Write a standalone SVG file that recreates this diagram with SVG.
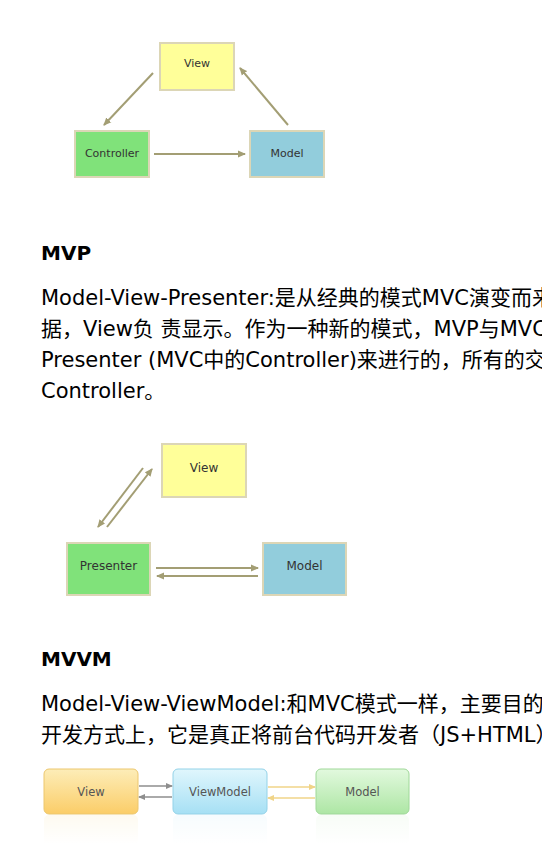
<svg xmlns="http://www.w3.org/2000/svg" width="542" height="844" viewBox="0 0 542 844">
<style>
.box{stroke:#dcd6b6;stroke-width:2}
.lbl{font-family:"DejaVu Sans",Verdana,sans-serif;font-size:11px;fill:#333;text-anchor:middle}
.lbl2{font-family:"DejaVu Sans",Verdana,sans-serif;font-size:12px;fill:#333;text-anchor:middle}
.lbl3{font-family:"DejaVu Sans",Verdana,sans-serif;font-size:11.5px;fill:#555;text-anchor:middle}
.h{font-family:"DejaVu Sans",Verdana,sans-serif;font-size:20px;font-weight:bold;fill:#000}
.t{font-family:"DejaVu Sans",Verdana,"Noto Sans CJK SC",sans-serif;font-size:21px;fill:#000}
.arr{stroke:#a39e74;stroke-width:2;fill:none;marker-end:url(#ah)}
.ag{stroke:#8e8e8e;stroke-width:1.5;fill:none;marker-end:url(#ahg)}
.ay{stroke:#f0d488;stroke-width:1.5;fill:none;marker-end:url(#ahy)}
</style>
<defs>
<marker id="ah" markerWidth="8" markerHeight="8" refX="7" refY="4" orient="auto" markerUnits="userSpaceOnUse"><path d="M0,0.5 L8,4 L0,7.5 Z" fill="#a39e74"/></marker>
<marker id="ahg" markerWidth="7" markerHeight="6" refX="6" refY="3" orient="auto" markerUnits="userSpaceOnUse"><path d="M0,0 L7,3 L0,6 Z" fill="#8e8e8e"/></marker>
<marker id="ahy" markerWidth="7" markerHeight="6" refX="6" refY="3" orient="auto" markerUnits="userSpaceOnUse"><path d="M0,0 L7,3 L0,6 Z" fill="#f0d488"/></marker>
<linearGradient id="gV" x1="0" y1="0" x2="0" y2="1"><stop offset="0" stop-color="#fdedb8"/><stop offset="1" stop-color="#fbcd68"/></linearGradient>
<linearGradient id="gVM" x1="0" y1="0" x2="0" y2="1"><stop offset="0" stop-color="#e0f6fd"/><stop offset="1" stop-color="#a6e0f4"/></linearGradient>
<linearGradient id="gM" x1="0" y1="0" x2="0" y2="1"><stop offset="0" stop-color="#e2f9de"/><stop offset="1" stop-color="#ade6a4"/></linearGradient>
<linearGradient id="fade" x1="0" y1="0" x2="0" y2="1"><stop offset="0" stop-color="#fff" stop-opacity="0.4"/><stop offset="1" stop-color="#fff" stop-opacity="1"/></linearGradient>
</defs>
<rect width="542" height="844" fill="#fff"/>

<!-- Diagram 1: MVC -->
<g id="mvc-view"><rect class="box" x="160" y="43" width="74" height="47" fill="#ffff99"/><text class="lbl" x="197" y="67">View</text></g>
<g id="mvc-controller"><rect class="box" x="75" y="131" width="74" height="46" fill="#80e27a"/><text class="lbl" x="112" y="157">Controller</text></g>
<g id="mvc-model"><rect class="box" x="250" y="131" width="74" height="46" fill="#92cddc"/><text class="lbl" x="287" y="157">Model</text></g>
<g id="mvc-connectors">
<line class="arr" x1="153" y1="73" x2="104" y2="125"/>
<line class="arr" x1="154" y1="154" x2="245" y2="154"/>
<line class="arr" x1="288" y1="125" x2="240" y2="68"/>
</g>

<!-- MVP section text -->
<text class="h" x="41" y="260">MVP</text>
<text class="t" x="41" y="305">Model-View-Presenter:是从经典的模式MVC演变而来</text>
<text class="t" x="41" y="336">据，View负 责显示。作为一种新的模式，MVP与MVC</text>
<text class="t" x="41" y="367">Presenter (MVC中的Controller)来进行的，所有的交</text>
<text class="t" x="41" y="398">Controller。</text>

<!-- Diagram 2: MVP -->
<g id="mvp-view"><rect class="box" x="162" y="444" width="84" height="53" fill="#ffff99"/><text class="lbl2" x="204" y="472">View</text></g>
<g id="mvp-presenter"><rect class="box" x="67" y="543" width="83" height="52" fill="#80e27a"/><text class="lbl2" x="108.5" y="570">Presenter</text></g>
<g id="mvp-model"><rect class="box" x="263" y="543" width="83" height="52" fill="#92cddc"/><text class="lbl2" x="304.5" y="570">Model</text></g>
<g id="mvp-connectors">
<line class="arr" x1="143" y1="468" x2="98" y2="527"/>
<line class="arr" x1="107" y1="527" x2="152" y2="469"/>
<line class="arr" x1="156" y1="568" x2="258" y2="568"/>
<line class="arr" x1="258" y1="576" x2="157" y2="576"/>
</g>

<!-- MVVM section text -->
<text class="h" x="41" y="666">MVVM</text>
<text class="t" x="41" y="711">Model-View-ViewModel:和MVC模式一样，主要目的</text>
<text class="t" x="41" y="742">开发方式上，它是真正将前台代码开发者（JS+HTML）</text>

<!-- Diagram 3: MVVM -->
<g id="mvvm-reflection" opacity="0.25">
<rect x="44" y="815" width="94" height="30" rx="5" fill="#fbe3a0"/>
<rect x="173" y="815" width="94" height="30" rx="5" fill="#c8eefa"/>
<rect x="316" y="815" width="93" height="30" rx="5" fill="#d0f2cb"/>
</g>
<rect x="40" y="814" width="375" height="30" fill="url(#fade)"/>
<g id="mvvm-view"><rect x="44" y="769" width="94" height="45" rx="5" fill="url(#gV)" stroke="#ecc76e" stroke-width="1"/><text class="lbl3" x="91" y="796">View</text></g>
<g id="mvvm-viewmodel"><rect x="173" y="769" width="94" height="45" rx="5" fill="url(#gVM)" stroke="#93d2e8" stroke-width="1"/><text class="lbl3" x="220" y="796">ViewModel</text></g>
<g id="mvvm-model"><rect x="316" y="769" width="93" height="45" rx="5" fill="url(#gM)" stroke="#9fd898" stroke-width="1"/><text class="lbl3" x="362.5" y="796">Model</text></g>
<g id="mvvm-connectors">
<line class="ag" x1="139" y1="786" x2="172" y2="786"/>
<line class="ag" x1="172" y1="797" x2="139" y2="797"/>
<line class="ay" x1="268" y1="787" x2="315" y2="787"/>
<line class="ay" x1="315" y1="798" x2="268" y2="798"/>
</g>
</svg>
